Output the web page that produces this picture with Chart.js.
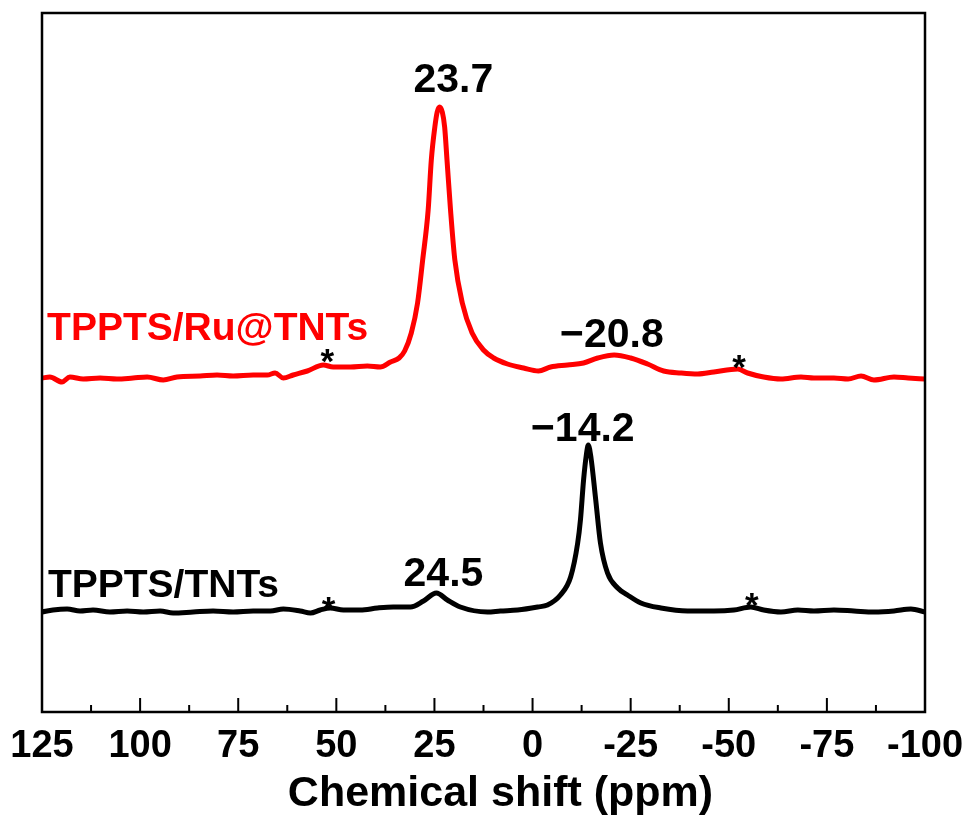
<!DOCTYPE html>
<html>
<head>
<meta charset="utf-8">
<script src="https://cdn.jsdelivr.net/npm/chart.js@4.4.1/dist/chart.umd.min.js"></script>
<style>
  html, body { margin: 0; padding: 0; background: #fff; }
  #wrap { width: 968px; height: 816px; }
</style>
</head>
<body>
<div id="wrap"><canvas id="nmrChart" width="968" height="816"></canvas></div>
<script>
// 31P spectra: chemical shift (ppm) and intensity (a.u., above each baseline)
const ruShift = [125.0, 123.0, 119.9, 117.9, 114.5, 110.2, 105.9, 101.8, 98.2, 94.1,
  90.6, 84.7, 80.4, 76.3, 71.2, 67.6, 65.6, 63.5, 61.0, 57.4,
  53.3, 50.8, 46.4, 42.1, 38.8, 36.2, 34.0, 32.6, 30.9, 29.3,
  28.0, 26.6, 25.8, 24.9, 24.3, 23.7, 23.0, 22.4, 21.8, 20.9,
  19.8, 17.9, 15.4, 12.5, 9.9, 6.4, 2.3, -1.5, -4.6, -8.9,
  -13.0, -16.6, -20.8, -25.0, -29.3, -33.4, -37.8, -42.1, -46.2, -52.3,
  -54.8, -58.9, -63.3, -68.4, -71.7, -76.8, -80.4, -83.7, -87.0, -92.1,
  -95.7, -100.0];
const ruIntensity = [0, 1, -4, 1, -1, 0, -1, 0, 1, -2,
  1, 2, 3, 2, 3, 3, 5, 0, 3, 7,
  13, 11, 11, 12, 11, 16, 20, 27, 45, 75,
  118, 168, 218, 251, 266, 271, 266, 251, 218, 168,
  118, 75, 45, 28, 20, 14, 10, 7, 11, 13,
  15, 20, 23, 20, 14, 7, 5, 4, 6, 9,
  5, 1, -1, 1, 0, 0, -1, 2, -2, 1,
  0, -1];

const tntShift = [125.0, 122.2, 118.6, 115.3, 112.0, 107.7, 103.3, 99.2, 94.9, 91.6,
  86.5, 81.4, 76.3, 71.2, 66.8, 63.5, 59.2, 56.6, 54.1, 51.5,
  48.2, 43.9, 39.5, 35.5, 31.1, 27.8, 24.5, 21.7, 18.4, 11.5,
  8.2, 3.8, -1.3, -3.8, -7.1, -9.7, -11.5, -12.2, -13.0, -13.7,
  -14.2, -14.9, -16.1, -17.3, -19.1, -21.7, -24.2, -27.6, -32.7, -39.5,
  -46.2, -51.3, -55.6, -58.9, -63.3, -67.6, -71.7, -76.8, -81.9, -87.0,
  -92.1, -96.4, -100.0];
const tntIntensity = [-2, 0, 1, -1, 0, -2, -1, -2, -1, -3,
  -2, -1, -2, -1, -1, 1, -1, -3, 0, 2,
  0, 0, 2, 3, 3, 9, 17, 10, 3, -2,
  -1, 0, 3, 5, 15, 33, 67, 90, 130, 155,
  165, 152, 110, 67, 37, 22, 15, 7, 2, -1,
  -1, 0, 3, 0, -2, 0, -1, 0, -1, -2,
  -1, 1, -2];

// baselines of the stacked spectra
const ruOffset = 334;
const tntOffset = 102;

const sampleNames = ['TPPTS/Ru@TNTs', 'TPPTS/TNTs'];
const peakValues = ['23.7', '\u221220.8', '\u221214.2', '24.5'];
const spinningBands = [52.3, -52.6, 52.0, -55.9];

const FONT = "'Liberation Sans', Arial, Helvetica, sans-serif";

// text placed in data space: x = ppm, y = stacked intensity (text baseline)
const annotations = [
  { text: peakValues[0], ppm: 20.2, y: 620, size: 41, color: '#000' },
  { text: peakValues[1], ppm: -20.2, y: 365, size: 41, color: '#000' },
  { text: peakValues[2], ppm: -12.8, y: 271, size: 41, color: '#000' },
  { text: peakValues[3], ppm: 22.7, y: 126, size: 41, color: '#000' },
  { text: sampleNames[0], ppm: 123.7, y: 372, size: 39, color: '#ff0000', align: 'left' },
  { text: sampleNames[1], ppm: 123.5, y: 115, size: 39, color: '#000', align: 'left' },
  { text: '*', ppm: spinningBands[0], y: 339, size: 35, color: '#000' },
  { text: '*', ppm: spinningBands[1], y: 333, size: 35, color: '#000' },
  { text: '*', ppm: spinningBands[2], y: 91, size: 35, color: '#000' },
  { text: '*', ppm: spinningBands[3], y: 95, size: 35, color: '#000' }
];

function toPoints(shift, intensity, offset) {
  return shift.map((s, i) => ({ x: s, y: intensity[i] + offset }));
}

const frameAndLabels = {
  id: 'frameAndLabels',
  afterDraw(chart) {
    const { ctx, chartArea: a, scales: { x, y } } = chart;
    ctx.save();
    ctx.strokeStyle = '#000';
    ctx.lineWidth = 2.5;
    ctx.strokeRect(a.left, a.top, a.right - a.left, a.bottom - a.top);

    // inward ticks, minor ones halfway between the labelled ones
    ctx.lineWidth = 2;
    ctx.beginPath();
    for (let v = -100; v <= 125; v += 12.5) {
      const px = x.getPixelForValue(v);
      const len = v % 25 === 0 ? 14 : 7;
      ctx.moveTo(px, a.bottom);
      ctx.lineTo(px, a.bottom - len);
    }
    ctx.stroke();

    ctx.textBaseline = 'alphabetic';
    annotations.forEach(n => {
      ctx.font = 'bold ' + n.size + 'px ' + FONT;
      ctx.fillStyle = n.color;
      ctx.textAlign = n.align || 'center';
      ctx.fillText(n.text, x.getPixelForValue(n.ppm), y.getPixelForValue(n.y));
    });

    ctx.font = 'bold 43px ' + FONT;
    ctx.fillStyle = '#000';
    ctx.textAlign = 'center';
    ctx.fillText('Chemical shift (ppm)', (a.left + a.right) / 2 + 17, 806);
    ctx.restore();
  }
};

const lineStyle = {
  borderWidth: 5,
  pointRadius: 0,
  cubicInterpolationMode: 'monotone',
  borderJoinStyle: 'round',
  borderCapStyle: 'round'
};

const nmrChart = new Chart(document.getElementById('nmrChart'), {
  type: 'line',
  data: {
    datasets: [
      Object.assign({
        label: sampleNames[0],
        data: toPoints(ruShift, ruIntensity, ruOffset),
        borderColor: '#ff0000'
      }, lineStyle),
      Object.assign({
        label: sampleNames[1],
        data: toPoints(tntShift, tntIntensity, tntOffset),
        borderColor: '#000000'
      }, lineStyle)
    ]
  },
  options: {
    responsive: false,
    animation: false,
    devicePixelRatio: 1,
    layout: { padding: { left: 42, right: 43, top: 13, bottom: 0 } },
    plugins: {
      legend: { display: false },
      tooltip: { enabled: false }
    },
    scales: {
      x: {
        type: 'linear',
        reverse: true,
        min: -100,
        max: 125,
        grid: { display: false, drawTicks: false },
        border: { display: false },
        ticks: {
          stepSize: 25,
          autoSkip: false,
          maxRotation: 0,
          padding: 12,
          color: '#000',
          font: { family: FONT, size: 38, weight: 'bold' },
          callback: v => String(v)
        },
        afterFit: scale => {
          // edge labels may spill into the side margins
          scale.height = 104;
          scale.paddingLeft = 0;
          scale.paddingRight = 0;
        }
      },
      y: {
        display: false,
        min: 0,
        max: 699
      }
    }
  },
  plugins: [frameAndLabels]
});
</script>
</body>
</html>
